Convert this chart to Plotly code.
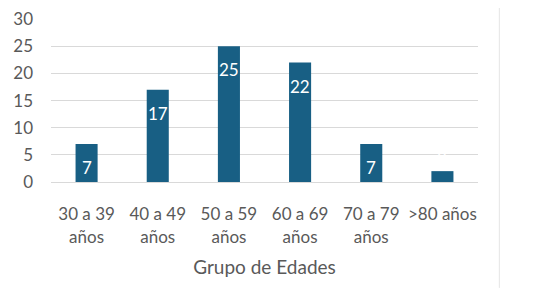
import plotly.graph_objects as go

categories = ["30 a 39<br>años", "40 a 49<br>años", "50 a 59<br>años", "60 a 69<br>años", "70 a 79<br>años", ">80 años"]
values = [7, 17, 25, 22, 7, 2]
labels = ["7", "17", "25", "22", "7", "2"]
y_ticks = [0, 5, 10, 15, 20, 25, 30]

FONT = "Lato, Open Sans, sans-serif"
GREY = "#595959"

fig = go.Figure()
fig.add_trace(go.Bar(
    x=categories, y=values,
    marker=dict(color="#185F84", line=dict(width=0)),
    width=0.31, cliponaxis=False,
))

annotations = []
for cat, val, lab in zip(categories, values, labels):
    inside = val >= 5
    annotations.append(dict(
        x=cat, y=val, xref="x", yref="y", text=lab, showarrow=False,
        yanchor="top" if inside else "bottom", yshift=-11 if inside else 0,
        font=dict(color="white", size=17, family=FONT),
    ))

fig.update_layout(
    width=548, height=298,
    margin=dict(l=43, r=78, t=11, b=124),
    paper_bgcolor="white", plot_bgcolor="white",
    showlegend=False,
    font=dict(family=FONT, color=GREY, size=17),
    xaxis=dict(
        showgrid=False, showline=True, linecolor="#D9D9D9", linewidth=1, automargin=False,
        tickfont=dict(size=17, color=GREY), ticks="", ticklabelstandoff=17,
        title=dict(text="Grupo de Edades", font=dict(size=19, color=GREY), standoff=15),
    ),
    yaxis=dict(
        range=[0, 30.02], tickvals=y_ticks, showgrid=True, gridcolor="#D9D9D9", gridwidth=1,
        automargin=False, ticklabeloverflow="allow",
        zeroline=False, tickfont=dict(size=17, color=GREY), ticks="", ticklabelstandoff=17,
    ),
    annotations=annotations,
    shapes=[dict(type="line", xref="paper", yref="paper", x0=1.05, x1=1.05, y0=1.117, y1=-0.65,
                 line=dict(color="#E6E6E6", width=1))],
)

fig.write_html("out.html")
